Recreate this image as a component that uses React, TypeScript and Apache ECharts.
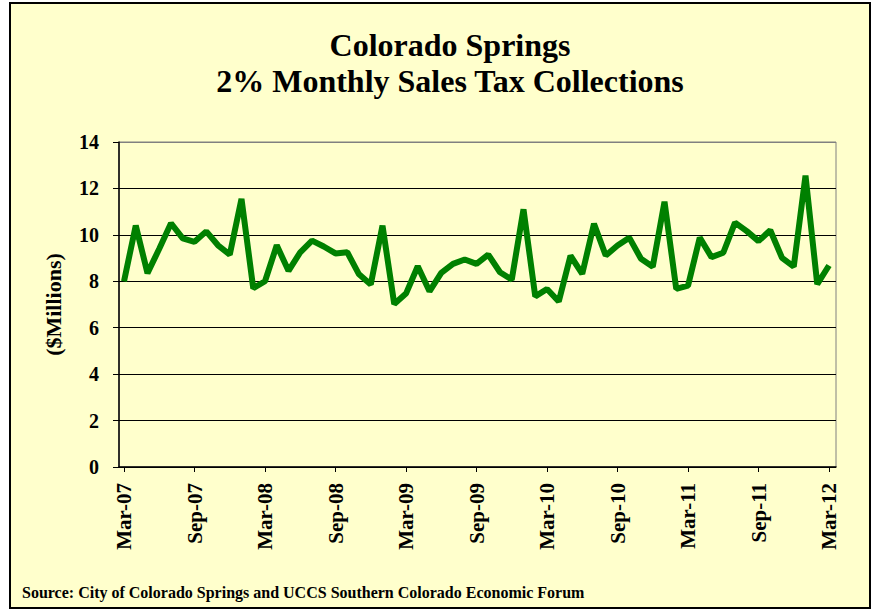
import React, { useEffect, useRef } from "react";
import * as echarts from "echarts";

const months: string[] = [
  "Mar-07","Apr-07","May-07","Jun-07","Jul-07","Aug-07","Sep-07","Oct-07","Nov-07","Dec-07","Jan-08","Feb-08",
  "Mar-08","Apr-08","May-08","Jun-08","Jul-08","Aug-08","Sep-08","Oct-08","Nov-08","Dec-08","Jan-09","Feb-09",
  "Mar-09","Apr-09","May-09","Jun-09","Jul-09","Aug-09","Sep-09","Oct-09","Nov-09","Dec-09","Jan-10","Feb-10",
  "Mar-10","Apr-10","May-10","Jun-10","Jul-10","Aug-10","Sep-10","Oct-10","Nov-10","Dec-10","Jan-11","Feb-11",
  "Mar-11","Apr-11","May-11","Jun-11","Jul-11","Aug-11","Sep-11","Oct-11","Nov-11","Dec-11","Jan-12","Feb-12",
  "Mar-12",
];

const salesTax: number[] = [
  8.0, 10.4, 8.35, 9.4, 10.5, 9.85, 9.7, 10.15, 9.55, 9.15, 11.55, 7.7,
  8.0, 9.55, 8.45, 9.25, 9.75, 9.5, 9.2, 9.25, 8.3, 7.86, 10.4, 7.02,
  7.47, 8.65, 7.57, 8.36, 8.75, 8.94, 8.75, 9.15, 8.39, 8.07, 11.1, 7.35,
  7.67, 7.13, 9.1, 8.32, 10.48, 9.11, 9.54, 9.88, 8.97, 8.63, 11.43, 7.67,
  7.81, 9.88, 9.04, 9.23, 10.53, 10.16, 9.73, 10.2, 9.01, 8.63, 12.55, 7.88,
  8.68,
];

const titleLines: string[] = ["Colorado Springs", "2% Monthly Sales Tax Collections"];
const yAxisName = "($Millions)";
const sourceText = "Source: City of Colorado Springs and UCCS Southern Colorado Economic Forum";

const FONT = '"Liberation Serif", "Times New Roman", serif';

export default function App() {
  const ref = useRef<HTMLDivElement>(null);

  useEffect(() => {
    if (!ref.current) return;
    const chart = echarts.init(ref.current, undefined, { renderer: "svg" });
    const gridColors = ["#000", "#000", "#000", "#000", "#000", "#000", "#000", "#808080"];
    chart.setOption({
      animation: false,
      backgroundColor: "#ffffff",
      graphic: [
        {
          type: "rect",
          z: -100,
          shape: { x: 10, y: 3, width: 860, height: 605 },
          style: { fill: "#FFFFCC", stroke: "#000", lineWidth: 2 },
        },
        {
          type: "text",
          x: 450,
          y: 45,
          style: {
            text: titleLines[0],
            textAlign: "center",
            textVerticalAlign: "middle",
            font: `bold 32px ${FONT}`,
            fill: "#000",
          },
        },
        {
          type: "text",
          x: 450,
          y: 81,
          style: {
            text: titleLines[1],
            textAlign: "center",
            textVerticalAlign: "middle",
            font: `bold 32px ${FONT}`,
            fill: "#000",
          },
        },
        {
          type: "text",
          x: 22,
          y: 592,
          style: {
            text: sourceText,
            textAlign: "left",
            textVerticalAlign: "middle",
            font: `bold 16px ${FONT}`,
            fill: "#000",
          },
        },
      ],
      grid: [
        {
          left: 119,
          right: 38,
          top: 142,
          bottom: 144,
          show: true,
          borderColor: "#808080",
          borderWidth: 1,
          backgroundColor: "transparent",
        },
        { left: 124, right: 45, top: 142, bottom: 144 },
      ],
      xAxis: [
        {
          gridIndex: 0,
          type: "value",
          min: 0,
          max: 1,
          axisLine: { show: true, onZero: false, lineStyle: { color: "#000", width: 1.5 } },
          axisTick: { show: false },
          axisLabel: { show: false },
          splitLine: { show: false },
        },
        {
          gridIndex: 1,
          type: "category",
          data: months,
          boundaryGap: false,
          axisLine: { show: false },
          axisTick: {
            show: true,
            interval: 5,
            length: 5,
            inside: false,
            lineStyle: { color: "#000" },
          },
          axisLabel: {
            interval: 5,
            rotate: 90,
            margin: 16,
            color: "#000",
            fontFamily: FONT,
            fontWeight: "bold",
            fontSize: 21,
          },
          splitLine: { show: false },
        },
      ],
      yAxis: [
        {
          gridIndex: 0,
          type: "value",
          min: 0,
          max: 14,
          interval: 2,
          name: yAxisName,
          nameLocation: "middle",
          nameGap: 55,
          nameTextStyle: {
            color: "#000",
            fontFamily: FONT,
            fontWeight: "bold",
            fontSize: 22,
          },
          axisLine: { show: true, lineStyle: { color: "#000", width: 1.5 } },
          axisTick: { show: true, length: 6, inside: false, lineStyle: { color: "#000" } },
          axisLabel: {
            margin: 20,
            color: "#000",
            fontFamily: FONT,
            fontWeight: "bold",
            fontSize: 20,
          },
          splitLine: { show: true, lineStyle: { color: gridColors, width: 1 } },
        },
        {
          gridIndex: 1,
          type: "value",
          min: 0,
          max: 14,
          interval: 2,
          show: false,
          splitLine: { show: false },
        },
      ],
      series: [
        {
          type: "line",
          xAxisIndex: 1,
          yAxisIndex: 1,
          data: salesTax,
          showSymbol: false,
          symbol: "none",
          z: 10,
          lineStyle: { color: "#008000", width: 6 },
        },
      ],
    });
    return () => chart.dispose();
  }, []);

  return (
    <div
      ref={ref}
      style={{ position: "fixed", left: 0, top: 0, width: 874, height: 611, background: "#fff" }}
    />
  );
}
